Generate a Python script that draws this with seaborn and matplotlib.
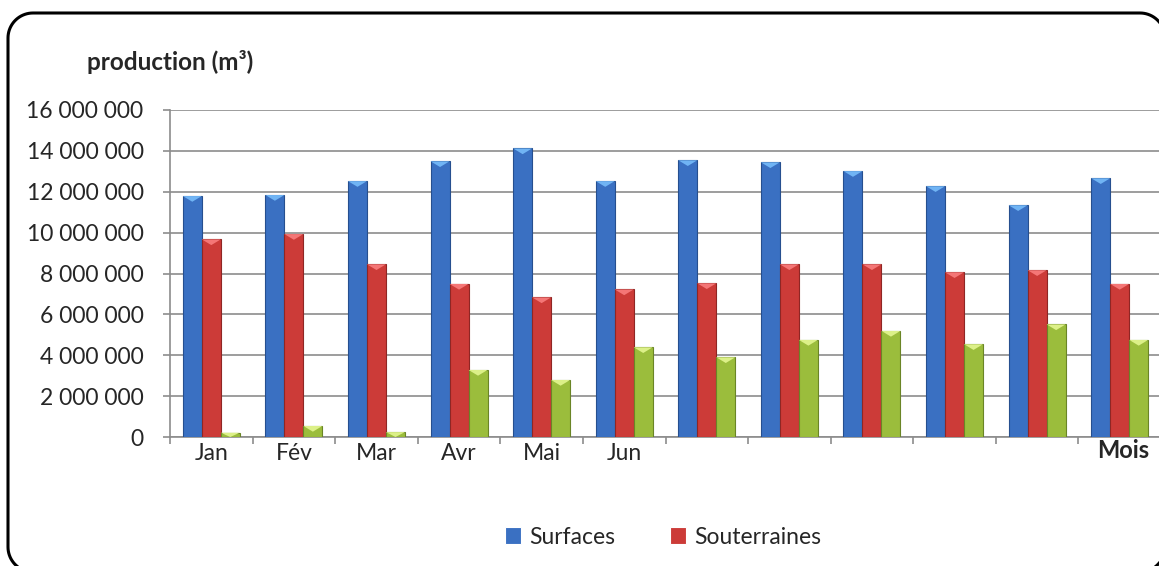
import pandas as pd
import numpy as np
import seaborn as sns
import matplotlib.pyplot as plt
from matplotlib.patches import Polygon
from matplotlib.ticker import FuncFormatter, FixedLocator

# ----------------------------------------------------------------------------
# Données
mois = ['Jan', 'Fév', 'Mar', 'Avr', 'Mai', 'Jun',
        'Jul', 'Aoû', 'Sep', 'Oct', 'Nov', 'Déc']
etiquettes = ['Jan', 'Fév', 'Mar', 'Avr', 'Mai', 'Jun', '', '', '', '', '', '']
surfaces = [11.79e6, 11.84e6, 12.52e6, 13.49e6, 14.12e6, 12.52e6,
            13.54e6, 13.44e6, 13.01e6, 12.27e6, 11.34e6, 12.66e6]
souterraines = [9.67e6, 9.93e6, 8.45e6, 7.49e6, 6.83e6, 7.22e6,
                7.52e6, 8.45e6, 8.45e6, 8.06e6, 8.16e6, 7.49e6]
autres = [0.21e6, 0.54e6, 0.24e6, 3.28e6, 2.79e6, 4.39e6,
          3.90e6, 4.75e6, 5.19e6, 4.54e6, 5.51e6, 4.75e6]
series = ['Surfaces', 'Souterraines', 'Autres']
couleurs = ['#3a70c2', '#cc3b38', '#9bbd3c']
couleurs_bord = ['#264f8f', '#8f2624', '#6a8526']
couleurs_haut = ['#70b4f4', '#f47676', '#dcf088']
# ----------------------------------------------------------------------------

datos = pd.DataFrame({
    'Mois': mois * 3,
    'Serie': [s for s in series for _ in mois],
    'Production': surfaces + souterraines + autres,
})

sns.set_style('white')
plt.rcParams['font.family'] = ['Lato', 'DejaVu Sans']
taille = 16.5

fig = plt.figure(figsize=(11.59, 5.66), dpi=100)
ax = fig.add_axes([170 / 1159, 129 / 566, 991 / 1159, 327 / 566])

sns.barplot(data=datos, x='Mois', y='Production', hue='Serie', order=mois,
            hue_order=series, palette=couleurs, saturation=1, width=0.69, gap=0,
            linewidth=0.8, ax=ax, zorder=3)

# bord plus foncé + petit triangle clair en haut de chaque barre (effet relief)
prof = 0.28e6
for cont, cb, ch in zip(ax.containers, couleurs_bord, couleurs_haut):
    for p in cont.patches:
        p.set_edgecolor(cb)
        x, w, h = p.get_x(), p.get_width(), p.get_height()
        if h <= 0:
            continue
        tri = Polygon([(x, h), (x + w, h), (x + w / 2, h - min(prof, h))],
                      closed=True, facecolor=ch, edgecolor='none', zorder=4)
        ax.add_patch(tri)

ax.set_ylim(0, 16e6)
ax.set_xlim(-0.5, 11.5)
ax.set_yticks(np.arange(0, 16e6 + 1, 2e6))
ax.yaxis.set_major_formatter(FuncFormatter(lambda v, p: f'{int(v):,}'.replace(',', ' ')))
ax.grid(axis='y', color='#8c8c8c', linewidth=1.2, zorder=0)
ax.set_axisbelow(True)

ax.set_xticks(range(len(mois)))
ax.set_xticklabels(etiquettes)
ax.xaxis.set_minor_locator(FixedLocator(np.arange(-0.5, 12, 1)))
ax.tick_params(axis='x', which='major', length=0, pad=4, labelsize=taille)
ax.tick_params(axis='x', which='minor', length=5, width=1.2, color='#8c8c8c', direction='out')
ax.tick_params(axis='y', length=5, width=1.2, color='#8c8c8c', direction='out',
               labelsize=taille, pad=14)
ax.tick_params(bottom=True, left=True, which='both')

for s in ['top', 'right']:
    ax.spines[s].set_visible(False)
for s in ['left', 'bottom']:
    ax.spines[s].set_color('#8c8c8c')
    ax.spines[s].set_linewidth(1.2)

ax.set_xlabel('')
ax.set_ylabel('')

fig.text(87 / 1159, 1 - 62 / 566, 'production (m³)', fontsize=17.5,
         fontweight='bold', va='center', ha='left')
fig.text(1097 / 1159, 1 - 451 / 566, 'Mois', fontsize=17,
         fontweight='bold', va='center', ha='left')

# légende : seulement les deux premières séries
handles, labels = ax.get_legend_handles_labels()
ax.legend_.remove()
fig.legend(handles[:2], labels[:2], loc='center', bbox_to_anchor=(663 / 1159, 1 - 537 / 566),
           ncol=2, frameon=False, fontsize=taille, handlelength=0.7, handleheight=0.7,
           handletextpad=0.35, columnspacing=2.4)

# cadre arrondi du graphique, en pixels (rayon 25 px)
g, d, haut, bas, r = 8, 1165, 566 - 13, 566 - 572, 25
coins = [(d - r, haut - r, 0), (g + r, haut - r, 90), (g + r, bas + r, 180), (d - r, bas + r, 270)]
sommets = []
for cx, cy, a0 in coins:
    t = np.radians(np.linspace(a0, a0 + 90, 20))
    sommets += list(zip(cx + r * np.cos(t), cy + r * np.sin(t)))
cadre = Polygon(sommets, closed=True, transform=None, facecolor='none',
                edgecolor='black', linewidth=2.2)
fig.patches.append(cadre)

fig.savefig('out.png', dpi=100)
